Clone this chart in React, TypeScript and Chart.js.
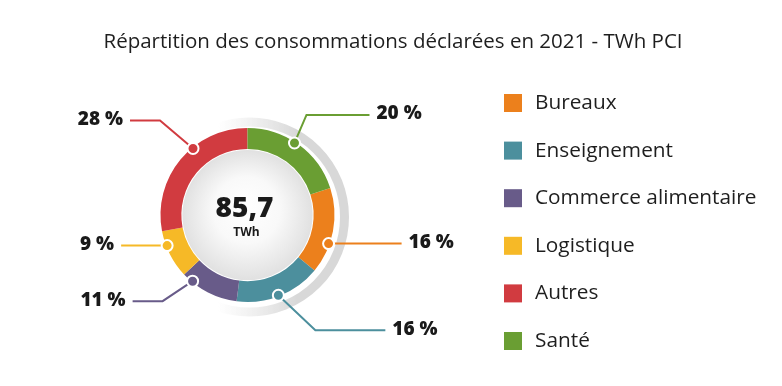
import React, { useEffect, useRef } from "react";
import { Chart, registerables } from "chart.js";

Chart.register(...registerables);

const TITLE = "Répartition des consommations déclarées en 2021 - TWh PCI";
const CATEGORIES = ["Bureaux", "Enseignement", "Commerce alimentaire", "Logistique", "Autres", "Santé"];
const SHARES = [16, 16, 11, 9, 28, 20];
const COLORS = ["#ec801c", "#4c8f9d", "#685b89", "#f6b927", "#d13b40", "#6a9e33"];
const TOTAL_LABEL = "85,7";
const UNIT_LABEL = "TWh";

// leader line layout (annotation placement only)
const DOT_FRAC = [0.65, 0.51, 0.82, 0.69, 0.61, 0.46];
const ELBOW = [[0, 0], [37, 35], [-30, 20], [0, 0], [-33, -28], [12, -28]];
const RUN = [73, 70, -30, -46, -30, 63];

const FONT = '"Open Sans", "DejaVu Sans", sans-serif';

const overlay = {
  id: "overlay",
  beforeDatasetsDraw(chart: any) {
    const ctx = chart.ctx;
    const arc = chart.getDatasetMeta(0).data[0];
    if (!arc) return;
    const { x: cx, y: cy, outerRadius: R, innerRadius: r } = arc as any;
    ctx.save();
    // grey halo ring
    const g = ctx.createLinearGradient(cx - 30, cy, cx + 50, cy);
    g.addColorStop(0, "rgba(225,225,225,0)");
    g.addColorStop(1, "rgba(216,216,216,1)");
    ctx.strokeStyle = g;
    ctx.lineWidth = 9;
    ctx.beginPath();
    ctx.arc(cx + 2, cy + 2, R + 8, 0, Math.PI * 2);
    ctx.stroke();
    // centre disc
    const rg = ctx.createRadialGradient(cx - 2, cy - 10, 0, cx, cy, r);
    rg.addColorStop(0, "#ffffff");
    rg.addColorStop(0.5, "#f9f9f9");
    rg.addColorStop(1, "#e0e0e0");
    ctx.fillStyle = rg;
    ctx.beginPath();
    ctx.arc(cx, cy, r - 1, 0, Math.PI * 2);
    ctx.fill();
    ctx.restore();
  },
  afterDraw(chart: any) {
    const ctx = chart.ctx;
    const meta = chart.getDatasetMeta(0);
    const first = meta.data[0] as any;
    if (!first) return;
    const cx = first.x, cy = first.y, R = first.outerRadius;
    ctx.save();
    // title
    ctx.fillStyle = "#1e1e1e";
    ctx.font = `400 20.5px ${FONT}`;
    ctx.textAlign = "center";
    ctx.textBaseline = "middle";
    ctx.fillText(TITLE, 393, 42);

    // centre text
    ctx.fillStyle = "#1a1a1a";
    ctx.font = `800 28px ${FONT}`;
    ctx.fillText(TOTAL_LABEL, cx - 3, cy - 6);
    ctx.font = `700 12px ${FONT}`;
    ctx.fillText(UNIT_LABEL, cx - 1, cy + 18);

    const total = SHARES.reduce((a, b) => a + b, 0);
    // leaders
    meta.data.forEach((el: any, i: number) => {
      const a = el.startAngle + DOT_FRAC[i] * (el.endAngle - el.startAngle);
      const dx = cx + Math.cos(a) * (R - 1);
      const dy = cy + Math.sin(a) * (R - 1);
      const ex = dx + ELBOW[i][0];
      const ey = dy + ELBOW[i][1];
      const fx = ex + RUN[i];
      ctx.strokeStyle = COLORS[i];
      ctx.lineWidth = 2;
      ctx.beginPath();
      ctx.moveTo(dx, dy);
      ctx.lineTo(ex, ey);
      ctx.lineTo(fx, ey);
      ctx.stroke();
      ctx.beginPath();
      ctx.arc(dx, dy, 5.5, 0, Math.PI * 2);
      ctx.fillStyle = COLORS[i];
      ctx.fill();
      ctx.lineWidth = 2;
      ctx.strokeStyle = "#ffffff";
      ctx.stroke();
      const pct = Math.round((SHARES[i] / total) * 100) + " %";
      ctx.fillStyle = "#1a1a1a";
      ctx.font = `800 19px ${FONT}`;
      ctx.textBaseline = "middle";
      if (RUN[i] >= 0) {
        ctx.textAlign = "left";
        ctx.fillText(pct, fx + 7, ey - 1);
      } else {
        ctx.textAlign = "right";
        ctx.fillText(pct, fx - 7, ey - 1);
      }
    });

    // legend
    CATEGORIES.forEach((lab, i) => {
      const y = 103 + i * 47.6;
      ctx.fillStyle = COLORS[i];
      ctx.fillRect(504, y - 9, 18, 18);
      ctx.fillStyle = "#1e1e1e";
      ctx.font = `400 20.8px ${FONT}`;
      ctx.textAlign = "left";
      ctx.textBaseline = "middle";
      ctx.fillText(lab, 535, y);
    });
    ctx.restore();
  },
};

export default function App() {
  const ref = useRef<HTMLCanvasElement | null>(null);
  useEffect(() => {
    document.body.style.margin = "0";
    if (!ref.current) return;
    const chart = new Chart(ref.current, {
      type: "doughnut",
      data: {
        labels: CATEGORIES,
        datasets: [
          {
            data: SHARES,
            backgroundColor: COLORS,
            borderWidth: 0,
            hoverOffset: 0,
          },
        ],
      },
      options: {
        responsive: false,
        animation: false,
        cutout: "76%",
        rotation: 72,
        layout: { padding: { left: 160, top: 128, right: 447, bottom: 84 } },
        plugins: {
          legend: { display: false },
          title: { display: false },
          tooltip: { enabled: false },
        },
      },
      plugins: [overlay],
    });
    return () => chart.destroy();
  }, []);
  return (
    <div style={{ width: 782, height: 386, background: "#ffffff" }}>
      <canvas ref={ref} width={782} height={386} />
    </div>
  );
}
